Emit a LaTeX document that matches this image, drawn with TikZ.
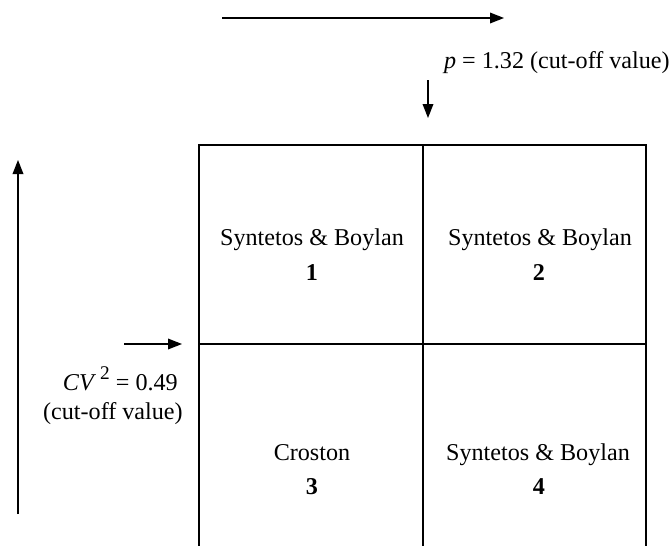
\documentclass[tikz,border=0pt]{standalone}
\usepackage{fontspec}
\setmainfont{Liberation Serif}
\usetikzlibrary{arrows.meta}
\begin{document}
\begin{tikzpicture}[x=0.75pt,y=-0.75pt,
  gridline/.style={line width=1.6pt,line cap=rect},
  axis/.style={line width=1pt,-{Triangle[length=10.5pt,width=8pt]}},
  lbl/.style={inner sep=0pt,font=\fontsize{18.1}{21}\selectfont},
  num/.style={inner sep=0pt,font=\fontsize{18.1}{21}\selectfont\bfseries}]
\useasboundingbox (0,0) rectangle (672,546);
% grid
\coordinate (tl) at (199,145);
\coordinate (tm) at (423,145);
\coordinate (tr) at (646,145);
\coordinate (ml) at (199,344);
\coordinate (mr) at (646,344);
\coordinate (bl) at (199,550);
\coordinate (bm) at (423,550);
\coordinate (br) at (646,550);
\draw[gridline] (bl) -- (tl) -- (tr) -- (br);
\draw[gridline] (tm) -- (bm);
\draw[gridline] (ml) -- (mr);
% cell labels
\node[lbl,anchor=base] (c1) at (312,245) {Syntetos \& Boylan};
\node[num,anchor=base] (n1) at (312,280) {1};
\node[lbl,anchor=base] (c2) at (540,245) {Syntetos \& Boylan};
\node[num,anchor=base] (n2) at (539,280) {2};
\node[lbl,anchor=base] (c3) at (312,460) {Croston};
\node[num,anchor=base] (n3) at (312,494) {3};
\node[lbl,anchor=base] (c4) at (538,460) {Syntetos \& Boylan};
\node[num,anchor=base] (n4) at (539,494) {4};
% top arrows and label
\coordinate (ha) at (222,18);
\coordinate (hb) at (504,18);
\draw[axis] (ha) -- (hb);
\node[lbl,anchor=base east] (plbl) at (670,68) {\textit{p} = 1.32 (cut-off value)};
\coordinate (da) at (428,80);
\coordinate (db) at (428,118);
\draw[axis] (da) -- (db);
% left arrows and label
\coordinate (va) at (18,514);
\coordinate (vb) at (18,160);
\draw[axis] (va) -- (vb);
\coordinate (ra) at (124,344);
\coordinate (rb) at (182,344);
\draw[axis] (ra) -- (rb);
\node[lbl,anchor=base east] (cvlbl) at (178,390) {\textit{CV}\,\raisebox{0.95ex}{\fontsize{14.5}{15}\selectfont 2} = 0.49};
\node[lbl,anchor=base east] (cvsub) at (183,419) {(cut-off value)};
\end{tikzpicture}
\end{document}
